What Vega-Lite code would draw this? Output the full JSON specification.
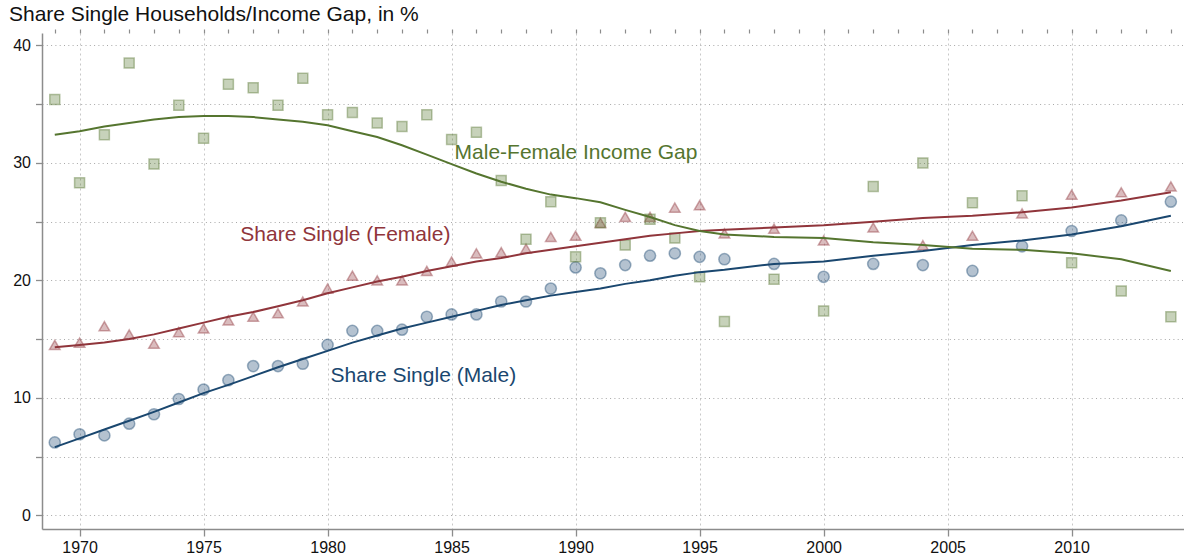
{
  "$schema": "https://vega.github.io/schema/vega-lite/v6.json",
  "width": 1142,
  "height": 496,
  "autosize": {"type": "none"},
  "padding": {"left": 42, "top": 33, "right": 0, "bottom": 29},
  "background": "white",
  "config": {"font": "Liberation Sans", "view": {"stroke": null}},
  "title": {
    "text": "Share Single Households/Income Gap, in %",
    "anchor": "start",
    "frame": "group",
    "fontSize": 21,
    "fontWeight": "normal",
    "color": "#111111",
    "dx": -33,
    "dy": 24,
    "offset": 10,
    "baseline": "alphabetic"
  },
  "datasets": {
    "obs": [
      {"year": 1969, "series": "Male", "value": 6.2}, {"year": 1970, "series": "Male", "value": 6.9}, {"year": 1971, "series": "Male", "value": 6.8}, {"year": 1972, "series": "Male", "value": 7.8}, {"year": 1973, "series": "Male", "value": 8.6}, {"year": 1974, "series": "Male", "value": 9.9}, {"year": 1975, "series": "Male", "value": 10.7}, {"year": 1976, "series": "Male", "value": 11.5}, {"year": 1977, "series": "Male", "value": 12.7}, {"year": 1978, "series": "Male", "value": 12.7}, {"year": 1979, "series": "Male", "value": 12.9}, {"year": 1980, "series": "Male", "value": 14.5}, {"year": 1981, "series": "Male", "value": 15.7}, {"year": 1982, "series": "Male", "value": 15.7}, {"year": 1983, "series": "Male", "value": 15.8}, {"year": 1984, "series": "Male", "value": 16.9}, {"year": 1985, "series": "Male", "value": 17.1}, {"year": 1986, "series": "Male", "value": 17.1}, {"year": 1987, "series": "Male", "value": 18.2}, {"year": 1988, "series": "Male", "value": 18.2}, {"year": 1989, "series": "Male", "value": 19.3}, {"year": 1990, "series": "Male", "value": 21.1}, {"year": 1991, "series": "Male", "value": 20.6}, {"year": 1992, "series": "Male", "value": 21.3}, {"year": 1993, "series": "Male", "value": 22.1}, {"year": 1994, "series": "Male", "value": 22.3}, {"year": 1995, "series": "Male", "value": 22.0}, {"year": 1996, "series": "Male", "value": 21.8}, {"year": 1998, "series": "Male", "value": 21.4}, {"year": 2000, "series": "Male", "value": 20.3}, {"year": 2002, "series": "Male", "value": 21.4}, {"year": 2004, "series": "Male", "value": 21.3}, {"year": 2006, "series": "Male", "value": 20.8}, {"year": 2008, "series": "Male", "value": 22.9}, {"year": 2010, "series": "Male", "value": 24.2}, {"year": 2012, "series": "Male", "value": 25.1}, {"year": 2014, "series": "Male", "value": 26.7},
      {"year": 1969, "series": "Female", "value": 14.5}, {"year": 1970, "series": "Female", "value": 14.7}, {"year": 1971, "series": "Female", "value": 16.1}, {"year": 1972, "series": "Female", "value": 15.4}, {"year": 1973, "series": "Female", "value": 14.6}, {"year": 1974, "series": "Female", "value": 15.6}, {"year": 1975, "series": "Female", "value": 15.9}, {"year": 1976, "series": "Female", "value": 16.6}, {"year": 1977, "series": "Female", "value": 16.9}, {"year": 1978, "series": "Female", "value": 17.2}, {"year": 1979, "series": "Female", "value": 18.2}, {"year": 1980, "series": "Female", "value": 19.3}, {"year": 1981, "series": "Female", "value": 20.4}, {"year": 1982, "series": "Female", "value": 20.0}, {"year": 1983, "series": "Female", "value": 20.0}, {"year": 1984, "series": "Female", "value": 20.8}, {"year": 1985, "series": "Female", "value": 21.6}, {"year": 1986, "series": "Female", "value": 22.3}, {"year": 1987, "series": "Female", "value": 22.4}, {"year": 1988, "series": "Female", "value": 22.7}, {"year": 1989, "series": "Female", "value": 23.7}, {"year": 1990, "series": "Female", "value": 23.8}, {"year": 1991, "series": "Female", "value": 24.9}, {"year": 1992, "series": "Female", "value": 25.4}, {"year": 1993, "series": "Female", "value": 25.4}, {"year": 1994, "series": "Female", "value": 26.2}, {"year": 1995, "series": "Female", "value": 26.4}, {"year": 1996, "series": "Female", "value": 24.0}, {"year": 1998, "series": "Female", "value": 24.4}, {"year": 2000, "series": "Female", "value": 23.4}, {"year": 2002, "series": "Female", "value": 24.5}, {"year": 2004, "series": "Female", "value": 23.0}, {"year": 2006, "series": "Female", "value": 23.8}, {"year": 2008, "series": "Female", "value": 25.7}, {"year": 2010, "series": "Female", "value": 27.3}, {"year": 2012, "series": "Female", "value": 27.5}, {"year": 2014, "series": "Female", "value": 28.0},
      {"year": 1969, "series": "Gap", "value": 35.4}, {"year": 1970, "series": "Gap", "value": 28.3}, {"year": 1971, "series": "Gap", "value": 32.4}, {"year": 1972, "series": "Gap", "value": 38.5}, {"year": 1973, "series": "Gap", "value": 29.9}, {"year": 1974, "series": "Gap", "value": 34.9}, {"year": 1975, "series": "Gap", "value": 32.1}, {"year": 1976, "series": "Gap", "value": 36.7}, {"year": 1977, "series": "Gap", "value": 36.4}, {"year": 1978, "series": "Gap", "value": 34.9}, {"year": 1979, "series": "Gap", "value": 37.2}, {"year": 1980, "series": "Gap", "value": 34.1}, {"year": 1981, "series": "Gap", "value": 34.3}, {"year": 1982, "series": "Gap", "value": 33.4}, {"year": 1983, "series": "Gap", "value": 33.1}, {"year": 1984, "series": "Gap", "value": 34.1}, {"year": 1985, "series": "Gap", "value": 32.0}, {"year": 1986, "series": "Gap", "value": 32.6}, {"year": 1987, "series": "Gap", "value": 28.5}, {"year": 1988, "series": "Gap", "value": 23.5}, {"year": 1989, "series": "Gap", "value": 26.7}, {"year": 1990, "series": "Gap", "value": 22.0}, {"year": 1991, "series": "Gap", "value": 24.9}, {"year": 1992, "series": "Gap", "value": 23.0}, {"year": 1993, "series": "Gap", "value": 25.2}, {"year": 1994, "series": "Gap", "value": 23.6}, {"year": 1995, "series": "Gap", "value": 20.3}, {"year": 1996, "series": "Gap", "value": 16.5}, {"year": 1998, "series": "Gap", "value": 20.1}, {"year": 2000, "series": "Gap", "value": 17.4}, {"year": 2002, "series": "Gap", "value": 28.0}, {"year": 2004, "series": "Gap", "value": 30.0}, {"year": 2006, "series": "Gap", "value": 26.6}, {"year": 2008, "series": "Gap", "value": 27.2}, {"year": 2010, "series": "Gap", "value": 21.5}, {"year": 2012, "series": "Gap", "value": 19.1}, {"year": 2014, "series": "Gap", "value": 16.9}
    ],
    "fit": [
      {"year": 1969, "series": "Male", "fit": 5.8}, {"year": 1970, "series": "Male", "fit": 6.55}, {"year": 1971, "series": "Male", "fit": 7.3}, {"year": 1972, "series": "Male", "fit": 8.05}, {"year": 1973, "series": "Male", "fit": 8.8}, {"year": 1974, "series": "Male", "fit": 9.6}, {"year": 1975, "series": "Male", "fit": 10.4}, {"year": 1976, "series": "Male", "fit": 11.1}, {"year": 1977, "series": "Male", "fit": 11.85}, {"year": 1978, "series": "Male", "fit": 12.6}, {"year": 1979, "series": "Male", "fit": 13.3}, {"year": 1980, "series": "Male", "fit": 14.0}, {"year": 1981, "series": "Male", "fit": 14.7}, {"year": 1982, "series": "Male", "fit": 15.3}, {"year": 1983, "series": "Male", "fit": 15.9}, {"year": 1984, "series": "Male", "fit": 16.4}, {"year": 1985, "series": "Male", "fit": 16.9}, {"year": 1986, "series": "Male", "fit": 17.4}, {"year": 1987, "series": "Male", "fit": 17.9}, {"year": 1988, "series": "Male", "fit": 18.3}, {"year": 1989, "series": "Male", "fit": 18.7}, {"year": 1990, "series": "Male", "fit": 19.0}, {"year": 1991, "series": "Male", "fit": 19.3}, {"year": 1992, "series": "Male", "fit": 19.7}, {"year": 1993, "series": "Male", "fit": 20.0}, {"year": 1994, "series": "Male", "fit": 20.4}, {"year": 1995, "series": "Male", "fit": 20.7}, {"year": 1996, "series": "Male", "fit": 20.9}, {"year": 1998, "series": "Male", "fit": 21.4}, {"year": 2000, "series": "Male", "fit": 21.6}, {"year": 2002, "series": "Male", "fit": 22.1}, {"year": 2004, "series": "Male", "fit": 22.5}, {"year": 2006, "series": "Male", "fit": 23.0}, {"year": 2008, "series": "Male", "fit": 23.4}, {"year": 2010, "series": "Male", "fit": 23.9}, {"year": 2012, "series": "Male", "fit": 24.6}, {"year": 2014, "series": "Male", "fit": 25.5},
      {"year": 1969, "series": "Female", "fit": 14.3}, {"year": 1970, "series": "Female", "fit": 14.5}, {"year": 1971, "series": "Female", "fit": 14.7}, {"year": 1972, "series": "Female", "fit": 15.0}, {"year": 1973, "series": "Female", "fit": 15.4}, {"year": 1974, "series": "Female", "fit": 15.9}, {"year": 1975, "series": "Female", "fit": 16.4}, {"year": 1976, "series": "Female", "fit": 16.9}, {"year": 1977, "series": "Female", "fit": 17.3}, {"year": 1978, "series": "Female", "fit": 17.8}, {"year": 1979, "series": "Female", "fit": 18.3}, {"year": 1980, "series": "Female", "fit": 18.9}, {"year": 1981, "series": "Female", "fit": 19.4}, {"year": 1982, "series": "Female", "fit": 19.9}, {"year": 1983, "series": "Female", "fit": 20.3}, {"year": 1984, "series": "Female", "fit": 20.8}, {"year": 1985, "series": "Female", "fit": 21.2}, {"year": 1986, "series": "Female", "fit": 21.6}, {"year": 1987, "series": "Female", "fit": 21.9}, {"year": 1988, "series": "Female", "fit": 22.3}, {"year": 1989, "series": "Female", "fit": 22.6}, {"year": 1990, "series": "Female", "fit": 22.9}, {"year": 1991, "series": "Female", "fit": 23.2}, {"year": 1992, "series": "Female", "fit": 23.5}, {"year": 1993, "series": "Female", "fit": 23.8}, {"year": 1994, "series": "Female", "fit": 24.0}, {"year": 1995, "series": "Female", "fit": 24.2}, {"year": 1996, "series": "Female", "fit": 24.3}, {"year": 1998, "series": "Female", "fit": 24.5}, {"year": 2000, "series": "Female", "fit": 24.7}, {"year": 2002, "series": "Female", "fit": 25.0}, {"year": 2004, "series": "Female", "fit": 25.3}, {"year": 2006, "series": "Female", "fit": 25.5}, {"year": 2008, "series": "Female", "fit": 25.8}, {"year": 2010, "series": "Female", "fit": 26.2}, {"year": 2012, "series": "Female", "fit": 26.8}, {"year": 2014, "series": "Female", "fit": 27.5},
      {"year": 1969, "series": "Gap", "fit": 32.4}, {"year": 1970, "series": "Gap", "fit": 32.7}, {"year": 1971, "series": "Gap", "fit": 33.1}, {"year": 1972, "series": "Gap", "fit": 33.4}, {"year": 1973, "series": "Gap", "fit": 33.7}, {"year": 1974, "series": "Gap", "fit": 33.9}, {"year": 1975, "series": "Gap", "fit": 34.0}, {"year": 1976, "series": "Gap", "fit": 34.0}, {"year": 1977, "series": "Gap", "fit": 33.9}, {"year": 1978, "series": "Gap", "fit": 33.7}, {"year": 1979, "series": "Gap", "fit": 33.5}, {"year": 1980, "series": "Gap", "fit": 33.2}, {"year": 1981, "series": "Gap", "fit": 32.7}, {"year": 1982, "series": "Gap", "fit": 32.2}, {"year": 1983, "series": "Gap", "fit": 31.5}, {"year": 1984, "series": "Gap", "fit": 30.7}, {"year": 1985, "series": "Gap", "fit": 29.9}, {"year": 1986, "series": "Gap", "fit": 29.1}, {"year": 1987, "series": "Gap", "fit": 28.4}, {"year": 1988, "series": "Gap", "fit": 27.8}, {"year": 1989, "series": "Gap", "fit": 27.3}, {"year": 1990, "series": "Gap", "fit": 27.0}, {"year": 1991, "series": "Gap", "fit": 26.65}, {"year": 1992, "series": "Gap", "fit": 26.0}, {"year": 1993, "series": "Gap", "fit": 25.4}, {"year": 1994, "series": "Gap", "fit": 24.7}, {"year": 1995, "series": "Gap", "fit": 24.2}, {"year": 1996, "series": "Gap", "fit": 23.9}, {"year": 1998, "series": "Gap", "fit": 23.7}, {"year": 2000, "series": "Gap", "fit": 23.6}, {"year": 2002, "series": "Gap", "fit": 23.25}, {"year": 2004, "series": "Gap", "fit": 23.0}, {"year": 2006, "series": "Gap", "fit": 22.7}, {"year": 2008, "series": "Gap", "fit": 22.6}, {"year": 2010, "series": "Gap", "fit": 22.3}, {"year": 2012, "series": "Gap", "fit": 21.8}, {"year": 2014, "series": "Gap", "fit": 20.8}
    ],
    "notes": [
      {"year": 1985.12, "value": 30.35, "series": "Gap", "label": "Male-Female Income Gap"},
      {"year": 1976.48, "value": 23.39, "series": "Female", "label": "Share Single (Female)"},
      {"year": 1980.12, "value": 11.38, "series": "Male", "label": "Share Single (Male)"}
    ]
  },
  "resolve": {"axis": {"x": "independent"}},
  "layer": [
    {
      "data": {"name": "obs"},
      "mark": {"type": "point", "filled": true, "fillOpacity": 0.33, "strokeOpacity": 0.42, "strokeWidth": 1.5},
      "encoding": {
        "x": {
          "field": "year", "type": "quantitative",
          "scale": {"domain": [1968.485, 2014.53], "nice": false, "zero": false},
          "axis": {
            "title": null, "values": [1970, 1975, 1980, 1985, 1990, 1995, 2000, 2005, 2010], "format": "d",
            "grid": true, "gridDash": [2, 3], "gridColor": "#c8c8c8", "gridWidth": 1,
            "domainColor": "#8c8c8c", "domainWidth": 1.5, "tickColor": "#8c8c8c", "tickWidth": 1.3, "tickSize": 7,
            "labelFontSize": 16, "labelColor": "#111111", "labelPadding": 3
          }
        },
        "y": {
          "field": "value", "type": "quantitative",
          "scale": {"domain": [-1.17, 41.06], "nice": false, "zero": false},
          "axis": {
            "title": null, "values": [0, 5, 10, 15, 20, 25, 30, 35, 40],
            "labelExpr": "datum.value % 10 === 0 ? datum.label : ''",
            "grid": true, "gridDash": [1, 3.3], "gridColor": "#a8a8a8", "gridWidth": 1,
            "domainColor": "#8c8c8c", "domainWidth": 1.5, "tickColor": "#8c8c8c", "tickWidth": 1.3, "tickSize": 6.5,
            "labelFontSize": 16, "labelColor": "#111111", "labelPadding": 5
          }
        },
        "shape": {"field": "series", "type": "nominal", "scale": {"domain": ["Male", "Female", "Gap"], "range": ["circle", "triangle-up", "square"]}, "legend": null},
        "size": {"field": "series", "type": "nominal", "scale": {"domain": ["Male", "Female", "Gap"], "range": [125, 100, 52]}, "legend": null},
        "color": {"field": "series", "type": "nominal", "scale": {"domain": ["Male", "Female", "Gap"], "range": ["#1a476f", "#90353b", "#55752f"]}, "legend": null},
        "stroke": {"field": "series", "type": "nominal", "scale": {"domain": ["Male", "Female", "Gap"], "range": ["#1a476f", "#90353b", "#55752f"]}, "legend": null}
      }
    },
    {
      "data": {"name": "fit"},
      "mark": {"type": "line", "strokeWidth": 2},
      "encoding": {
        "x": {
          "field": "year", "type": "quantitative",
          "axis": {
            "title": null, "values": [1969, 1970, 1971, 1972, 1973, 1974, 1975, 1976, 1977, 1978, 1979, 1980, 1981, 1982, 1983, 1984, 1985, 1986, 1987, 1988, 1989, 1990, 1991, 1992, 1993, 1994, 1995, 1996, 1997, 1998, 1999, 2000, 2001, 2002, 2003, 2004, 2005, 2006, 2007, 2008, 2009, 2010, 2011, 2012, 2013, 2014],
            "labels": false, "grid": false, "domain": false, "tickColor": "#8c8c8c", "tickWidth": 1.2, "tickSize": 4
          }
        },
        "y": {"field": "fit", "type": "quantitative"},
        "color": {"field": "series", "type": "nominal", "legend": null},
        "detail": {"field": "series"}
      }
    },
    {
      "data": {"name": "notes"},
      "mark": {"type": "text", "align": "left", "baseline": "alphabetic", "fontSize": 21},
      "encoding": {
        "x": {"field": "year", "type": "quantitative", "axis": null},
        "y": {"field": "value", "type": "quantitative"},
        "text": {"field": "label"},
        "color": {"field": "series", "type": "nominal", "legend": null}
      }
    }
  ]
}
